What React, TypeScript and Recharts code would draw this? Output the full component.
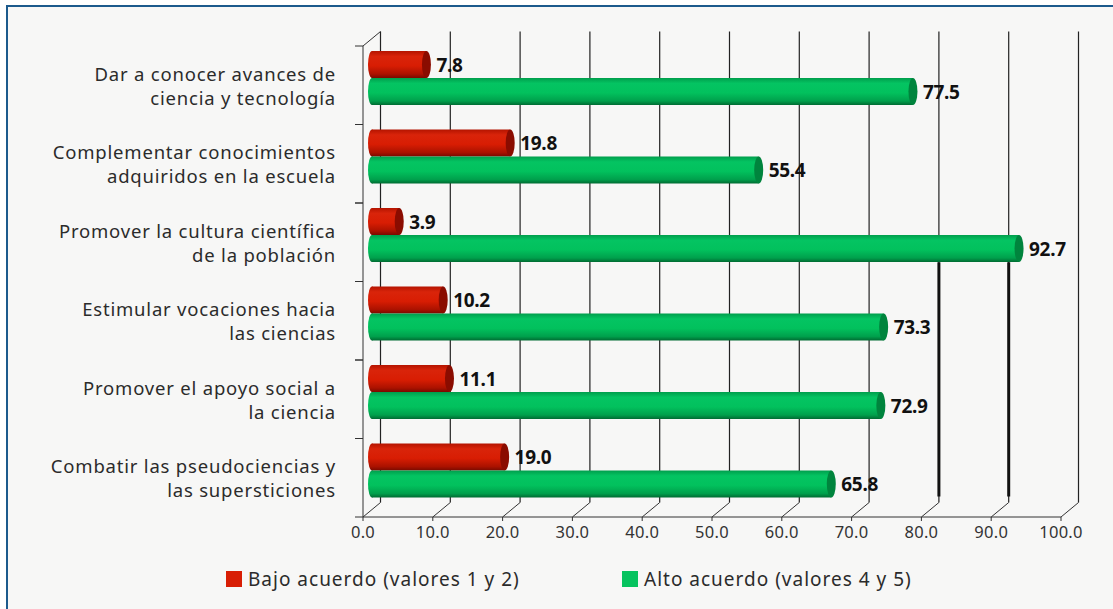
import { BarChart, Bar, XAxis, YAxis, CartesianGrid, LabelList } from 'recharts';

const categories = [
  'Dar a conocer avances de\nciencia y tecnología',
  'Complementar conocimientos\nadquiridos en la escuela',
  'Promover la cultura científica\nde la población',
  'Estimular vocaciones hacia\nlas ciencias',
  'Promover el apoyo social a\nla ciencia',
  'Combatir las pseudociencias y\nlas supersticiones',
];
const bajo = [7.8, 19.8, 3.9, 10.2, 11.1, 19.0];
const alto = [77.5, 55.4, 92.7, 73.3, 72.9, 65.8];
const xTicks = [0, 10, 20, 30, 40, 50, 60, 70, 80, 90, 100];

const series = [
  { key: 'bajo', name: 'Bajo acuerdo (valores 1 y 2)', color: '#d81e05', cap: '#8a0c00', grad: 'gRed' },
  { key: 'alto', name: 'Alto acuerdo (valores 4 y 5)', color: '#06c35f', cap: '#00843d', grad: 'gGreen' },
];

const data = categories.map((name, i) => ({ name, bajo: bajo[i], alto: alto[i] }));

// 3D depth: back wall offset, bars sit half way
const DX = 17.5;
const DY = 14.5;
const BX = 9;
const BY = -7;

const FONT = '"Noto Sans", "Open Sans", sans-serif';

function cylinder(grad: string, cap: string) {
  return (props: any) => {
    const { x, y, width, height } = props;
    if (!width || width <= 0) return <g />;
    const x0 = x + BX;
    const x1 = x + width + BX;
    const y0 = y + BY;
    const ry = height / 2;
    return (
      <g>
        <ellipse cx={x0} cy={y0 + ry} rx={4} ry={ry} fill={`url(#${grad})`} />
        <rect x={x0} y={y0} width={x1 - x0} height={height} fill={`url(#${grad})`} />
        <ellipse cx={x1} cy={y0 + ry} rx={4.5} ry={ry} fill={cap} />
      </g>
    );
  };
}

const valueLabel = (props: any) => {
  const { x, y, width, height, value } = props;
  return (
    <text
      x={x + width + BX + 10}
      y={y + height / 2 + BY}
      dominantBaseline="central"
      fontFamily={FONT}
      fontWeight={700}
      fontSize={19}
      letterSpacing={-0.3}
      fill="#111"
    >
      {Number(value).toFixed(1)}
    </text>
  );
};

const XTick = (props: any) => {
  const { x, y, payload } = props;
  return (
    <g>
      <line x1={x} y1={y} x2={x} y2={y + 4} stroke="#333" />
      <line x1={x} y1={y} x2={x + DX} y2={y - DY} stroke="#333" />
      <text x={x} y={y + 21} textAnchor="middle" fontFamily={FONT} fontSize={16.5} letterSpacing={0.3} fill="#333">
        {Number(payload.value).toFixed(1)}
      </text>
    </g>
  );
};

const YTick = (props: any) => {
  const { x, y, payload, index } = props;
  const half = payload.offset || 39;
  const lines = String(payload.value).split('\n');
  return (
    <g>
      <line x1={x - 8} y1={y - half} x2={x} y2={y - half} stroke="#333" />
      <line x1={x - 8} y1={y + half} x2={x} y2={y + half} stroke="#333" />
      {index === 0 && <line x1={x} y1={y - half} x2={x + DX} y2={y - half - DY} stroke="#333" />}
      <text textAnchor="end" fontFamily={FONT} fontSize={18.5} letterSpacing={0.8} fill="#2b2b2b">
        {lines.map((l, i) => (
          <tspan key={i} x={x - 27} y={y + (i - (lines.length - 1) / 2) * 24} dominantBaseline="central">
            {l}
          </tspan>
        ))}
      </text>
    </g>
  );
};

const gridLine = (props: any) => {
  const { x1, y1, x2, y2, index } = props;
  const top = y1 - DY;
  const bottom = y2 - DY;
  return (
    <g key={`v-${index}`}>
      <line x1={x1 + DX} y1={top} x2={x2 + DX} y2={bottom} stroke="#222" strokeWidth={1.2} />
      {(index === 8 || index === 9) && (
        <line
          x1={x1 + DX}
          y1={top + (bottom - top) * 0.49}
          x2={x2 + DX}
          y2={bottom - 6}
          stroke="#111"
          strokeWidth={3}
        />
      )}
    </g>
  );
};

export default function App() {
  return (
    <div style={{ position: 'absolute', left: 0, top: 0, width: 1113, height: 609, background: '#fff', overflow: 'hidden' }}>
      <div
        style={{
          position: 'absolute',
          left: 6,
          top: 5,
          width: 1200,
          height: 700,
          background: '#f7f7f6',
          borderLeft: '2.5px solid #1c5a8c',
          borderTop: '2.5px solid #1c5a8c',
        }}
      />
      <div style={{ position: 'absolute', left: 0, top: 0 }}>
        <BarChart
          width={1113}
          height={609}
          data={data}
          layout="vertical"
          margin={{ top: 46, right: 52, bottom: 62, left: 0 }}
          barSize={27}
          barGap={0}
        >
          <defs>
            <linearGradient id="gRed" x1="0" y1="0" x2="0" y2="1">
              <stop offset="0" stopColor="#b41400" />
              <stop offset="0.2" stopColor="#d9240a" />
              <stop offset="0.55" stopColor="#d81d03" />
              <stop offset="0.85" stopColor="#ab1200" />
              <stop offset="1" stopColor="#780a00" />
            </linearGradient>
            <linearGradient id="gGreen" x1="0" y1="0" x2="0" y2="1">
              <stop offset="0" stopColor="#009e4c" />
              <stop offset="0.2" stopColor="#04c462" />
              <stop offset="0.55" stopColor="#02c15d" />
              <stop offset="0.85" stopColor="#00a04c" />
              <stop offset="1" stopColor="#006b32" />
            </linearGradient>
          </defs>
          <CartesianGrid horizontal={false} vertical={gridLine} />
          <XAxis
            type="number"
            domain={[0, 100]}
            ticks={xTicks}
            interval={0}
            height={30}
            tickSize={0}
            tickMargin={0}
            tickLine={false}
            axisLine={{ stroke: '#333' }}
            tick={XTick}
          />
          <YAxis
            type="category"
            dataKey="name"
            width={363}
            tickSize={0}
            tickMargin={0}
            tickLine={false}
            axisLine={{ stroke: '#333' }}
            tick={YTick}
            interval={0}
          />
          {series.map((s) => (
            <Bar
              key={s.key}
              dataKey={s.key}
              name={s.name}
              fill={s.color}
              shape={cylinder(s.grad, s.cap)}
              isAnimationActive={false}
            >
              <LabelList dataKey={s.key} content={valueLabel} />
            </Bar>
          ))}
        </BarChart>
      </div>
      <div
        style={{
          position: 'absolute',
          left: 226,
          top: 566,
          display: 'flex',
          fontFamily: FONT,
          fontSize: 19,
          letterSpacing: 1,
          color: '#2b2b2b',
        }}
      >
        {series.map((s) => (
          <div key={s.key} style={{ display: 'flex', alignItems: 'center', width: 396 }}>
            <span style={{ display: 'inline-block', width: 16, height: 16, background: s.color, marginRight: 6 }} />
            <span>{s.name}</span>
          </div>
        ))}
      </div>
    </div>
  );
}
